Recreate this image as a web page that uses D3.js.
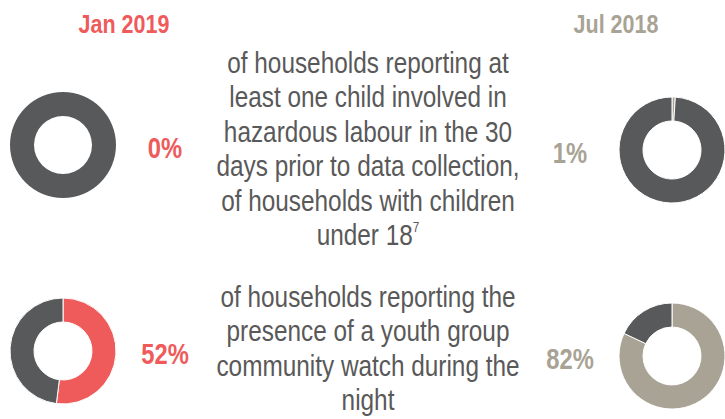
<!DOCTYPE html>
<html lang="en">
<head>
  <meta charset="UTF-8">
  <title>Child labour and youth watch</title>
  <script src="https://d3js.org/d3.v7.min.js"></script>
  <style>
    body { margin: 0; background: #fff; }
    svg text { font-family: "Liberation Sans Narrow", "Arial Narrow", "Liberation Sans", sans-serif; }
    .head { font-weight: bold; font-size: 25px; }
    .pct { font-weight: bold; font-size: 29px; }
    .desc { font-size: 29px; fill: #595959; }
  </style>
</head>
<body>
<svg width="725" height="419"></svg>
<script>
  // rounds and their values (% of households)
  const rounds = ["Jan 2019", "Jul 2018"];
  const jan2019 = [0, 52];
  const jul2018 = [1, 82];

  // indicator descriptions, one array of lines per row
  const descLines = [
    ["of households reporting at", "least one child involved in", "hazardous labour in the 30",
     "days prior to data collection,", "of households with children", "under 18"],
    ["of households reporting the", "presence of a youth group", "community watch during the", "night"]
  ];
  const footnote = "7";

  const red = "#ef5a5b", beige = "#a8a395", dark = "#58595b";
  const narrow = 0.84; // no condensed font installed, squeeze horizontally

  const svg = d3.select("svg");

  // layout
  const x = d3.scalePoint().domain(rounds).range([63, 672]);
  const labelX = { "Jan 2019": 165, "Jul 2018": 570 };
  const headX = { "Jan 2019": 124, "Jul 2018": 616 };
  const rowY = d3.scalePoint().domain([0, 1]).range([145, 351]);
  const shiftY = { "Jan 2019": 0, "Jul 2018": 5 };
  const colour = { "Jan 2019": red, "Jul 2018": beige };

  const pie = d3.pie().sort(null).value(d => d);
  const arc = d3.arc().innerRadius(29).outerRadius(53);

  // headers
  svg.selectAll("text.head")
    .data(rounds)
    .join("text")
    .attr("class", "head")
    .attr("transform", d => `translate(${headX[d]},33) scale(0.86,1)`)
    .attr("text-anchor", "middle")
    .attr("fill", d => colour[d])
    .text(d => d);

  const series = { "Jan 2019": jan2019, "Jul 2018": jul2018 };

  rounds.forEach(r => {
    series[r].forEach((v, i) => {
      const cy = rowY(i) + shiftY[r];
      const g = svg.append("g").attr("transform", `translate(${x(r)},${cy})`);
      g.selectAll("path")
        .data(pie([v, 100 - v]))
        .join("path")
        .attr("d", arc)
        .attr("fill", (d, j) => j === 0 ? colour[r] : dark)
        .attr("stroke", "#fff")
        .attr("stroke-width", v > 0 && v < 100 ? 1 : 0);

      svg.append("text")
        .attr("class", "pct")
        .attr("transform", `translate(${labelX[r]},${cy + 13}) scale(0.82,1)`)
        .attr("text-anchor", "middle")
        .attr("fill", colour[r])
        .text(v + "%");
    });
  });

  // descriptions
  const firstBase = [73, 307];
  descLines.forEach((lines, i) => {
    const t = svg.append("g")
      .attr("transform", `translate(368,0) scale(${narrow},1)`)
      .append("text")
      .attr("class", "desc")
      .attr("text-anchor", "middle");
    lines.forEach((l, k) => {
      const ts = t.append("tspan")
        .attr("x", 0)
        .attr("y", firstBase[i] + k * 34.4)
        .text(l);
      if (i === 0 && k === lines.length - 1) {
        ts.append("tspan")
          .attr("font-size", "14px")
          .attr("dy", -13)
          .text(footnote);
      }
    });
  });
</script>
</body>
</html>
